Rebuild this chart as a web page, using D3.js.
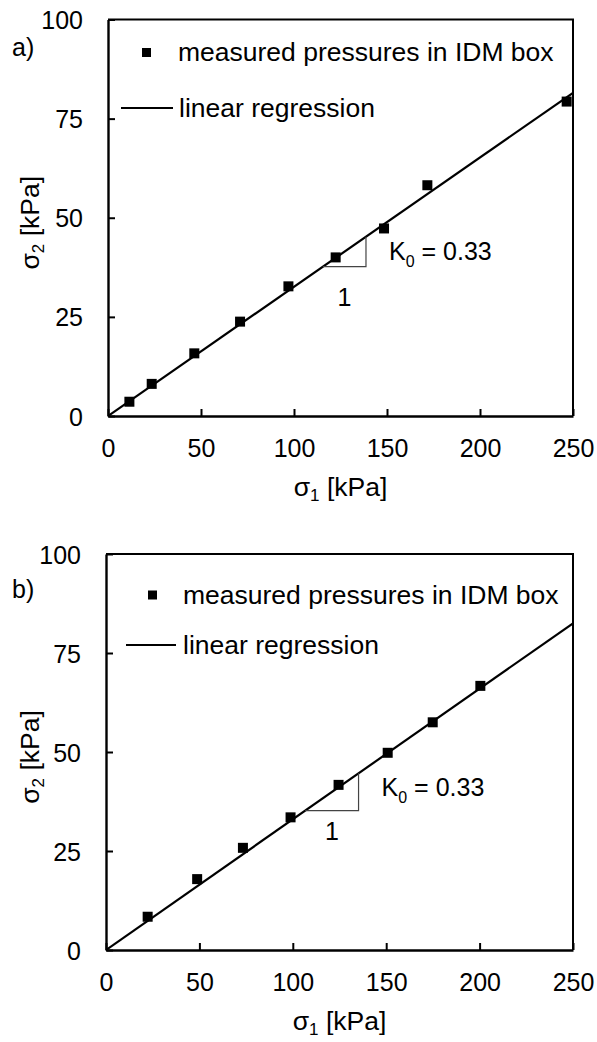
<!DOCTYPE html>
<html>
<head>
<meta charset="utf-8">
<script src="https://cdn.jsdelivr.net/npm/d3@7"></script>
<style>
  html, body { margin: 0; padding: 0; background: #fff; }
  svg { display: block; font-family: "Liberation Sans", Arial, sans-serif; }
</style>
</head>
<body>
<svg id="chart" width="597" height="1042"></svg>
<script>
// Measured earth pressures: horizontal (sigma2) vs vertical (sigma1)
const sigma1A = [11.5, 23.5, 46.4, 71, 97, 122.4, 148.4, 171.7, 246.6];
const sigma2A = [3.6, 8.1, 15.8, 23.8, 32.7, 40.0, 47.3, 58.2, 79.3];
const sigma1B = [22.3, 48.8, 73.3, 98.8, 124.5, 150.8, 174.9, 200.4];
const sigma2B = [8.4, 17.9, 25.8, 33.5, 41.7, 49.8, 57.5, 66.7];
// fitted slopes (K0), shown rounded to two decimals
const k0Values = [0.326, 0.33];
const panelLabels = ["a)", "b)"];
const xTicks = [0, 50, 100, 150, 200, 250];
const yTicks = [0, 25, 50, 75, 100];
const legendPoints = "measured pressures in IDM box";
const legendLine = "linear regression";
// sigma1 span of the slope triangle drawn under each regression line
const slopeTriangle = [[115.5, 138.7], [106.6, 135.2]];

const svg = d3.select("#chart");

const panels = [
  { s1: sigma1A, s2: sigma2A, k0: k0Values[0], label: panelLabels[0], tri: slopeTriangle[0],
    left: 108, right: 573, top: 19.5, bottom: 416, labelY: 56, oneDy: 39,
    mark: [34, 33], text1: 70, line: [13, 65, 88.5], text2: 71 },
  { s1: sigma1B, s2: sigma2B, k0: k0Values[1], label: panelLabels[1], tri: slopeTriangle[1],
    left: 106, right: 573, top: 554, bottom: 950, labelY: 598, oneDy: 29.5,
    mark: [42, 41], text1: 77, line: [20, 70, 91], text2: 77 }
];

panels.forEach(drawPanel);

function drawPanel(p) {
  const x = d3.scaleLinear().domain([0, 250]).range([p.left, p.right]);
  const y = d3.scaleLinear().domain([0, 100]).range([p.bottom, p.top]);
  const g = svg.append("g");
  const fs = 25;
  const fsBig = 26.5;

  // frame (top and right)
  g.append("path")
    .attr("d", `M${p.left},${p.top}H${p.right}V${p.bottom}`)
    .attr("fill", "none").attr("stroke", "#000").attr("stroke-width", 2);

  // x axis with inward ticks
  const xAxis = g.append("g").attr("transform", `translate(0,${p.bottom})`)
    .call(d3.axisBottom(x).tickValues(xTicks).tickSizeInner(-7).tickSizeOuter(0).tickPadding(0));
  xAxis.select(".domain").attr("stroke-width", 2.4);
  xAxis.selectAll(".tick line").attr("stroke-width", 2);
  xAxis.selectAll(".tick text").text(null);
  xAxis.selectAll(".tick").append("text")
    .attr("y", 41).attr("fill", "#000").attr("text-anchor", "middle")
    .style("font-size", fs + "px").style("font-family", "Liberation Sans, Arial, sans-serif")
    .text(d => d);

  // y axis with inward ticks
  const yAxis = g.append("g").attr("transform", `translate(${p.left},0)`)
    .call(d3.axisLeft(y).tickValues(yTicks).tickSizeInner(-7).tickSizeOuter(0).tickPadding(0));
  yAxis.select(".domain").attr("stroke-width", 2.4);
  yAxis.selectAll(".tick line").attr("stroke-width", 2);
  yAxis.selectAll(".tick text").text(null);
  yAxis.selectAll(".tick").append("text")
    .attr("x", -25).attr("y", 9).attr("fill", "#000").attr("text-anchor", "end")
    .style("font-size", fs + "px").style("font-family", "Liberation Sans, Arial, sans-serif")
    .text(d => d);

  // axis titles
  const xt = g.append("text")
    .attr("x", (p.left + p.right) / 2).attr("y", p.bottom + 80)
    .attr("text-anchor", "middle").style("font-size", fsBig + "px");
  xt.append("tspan").text("σ");
  xt.append("tspan").attr("dy", 5).style("font-size", "17px").text("1");
  xt.append("tspan").attr("dy", -5).text(" [kPa]");

  const cy = (p.top + p.bottom) / 2 + 5;
  const yt = g.append("text")
    .attr("transform", `translate(39,${cy}) rotate(-90)`)
    .attr("text-anchor", "middle").style("font-size", fsBig + "px");
  yt.append("tspan").text("σ");
  yt.append("tspan").attr("dy", 5).style("font-size", "17px").text("2");
  yt.append("tspan").attr("dy", -5).text(" [kPa]");

  // panel label
  g.append("text").attr("x", 12).attr("y", p.labelY)
    .style("font-size", fs + "px").text(p.label);

  // regression line sigma2 = K0 * sigma1
  const clipId = "clip" + Math.round(p.top);
  svg.append("clipPath").attr("id", clipId).append("rect")
    .attr("x", p.left).attr("y", p.top).attr("width", p.right - p.left).attr("height", p.bottom - p.top);
  g.append("line").attr("clip-path", `url(#${clipId})`)
    .attr("x1", x(0)).attr("y1", y(0))
    .attr("x2", x(250)).attr("y2", y(250 * p.k0))
    .attr("stroke", "#000").attr("stroke-width", 2.2);

  // slope triangle
  const [t0, t1] = p.tri;
  g.append("path")
    .attr("d", `M${x(t0)},${y(p.k0 * t0)}H${x(t1)}V${y(p.k0 * t1)}`)
    .attr("fill", "none").attr("stroke", "#444").attr("stroke-width", 1.2);
  g.append("text")
    .attr("x", (x(t0) + x(t1)) / 2).attr("y", y(p.k0 * t0) + p.oneDy)
    .attr("text-anchor", "middle").style("font-size", fs + "px").text("1");
  const kt = g.append("text")
    .attr("x", x(t1) + 23).attr("y", y(p.k0 * t1) + 23)
    .style("font-size", fs + "px");
  kt.append("tspan").text("K");
  kt.append("tspan").attr("dy", 7).style("font-size", "16px").text("0");
  kt.append("tspan").attr("dy", -7).text(" = " + p.k0.toFixed(2));

  // measured points
  const pts = p.s1.map((v, i) => [v, p.s2[i]]);
  g.selectAll("rect.pt").data(pts).join("rect")
    .attr("class", "pt")
    .attr("x", d => x(d[0]) - 5).attr("y", d => y(d[1]) - 5)
    .attr("width", 10).attr("height", 10).attr("fill", "#000");

  // legend
  const lx = p.left;
  const mY = p.top + p.mark[1];
  g.append("rect").attr("x", lx + p.mark[0]).attr("y", mY - 4.5)
    .attr("width", 9).attr("height", 9).attr("fill", "#000");
  g.append("text").attr("x", lx + p.text1).attr("y", mY + 8.5)
    .style("font-size", fsBig + "px").text(legendPoints);
  const lY = p.top + p.line[2];
  g.append("line").attr("x1", lx + p.line[0]).attr("x2", lx + p.line[1])
    .attr("y1", lY).attr("y2", lY).attr("stroke", "#000").attr("stroke-width", 2);
  g.append("text").attr("x", lx + p.text2).attr("y", lY + 9)
    .style("font-size", fsBig + "px").text(legendLine);
}
</script>
</body>
</html>
